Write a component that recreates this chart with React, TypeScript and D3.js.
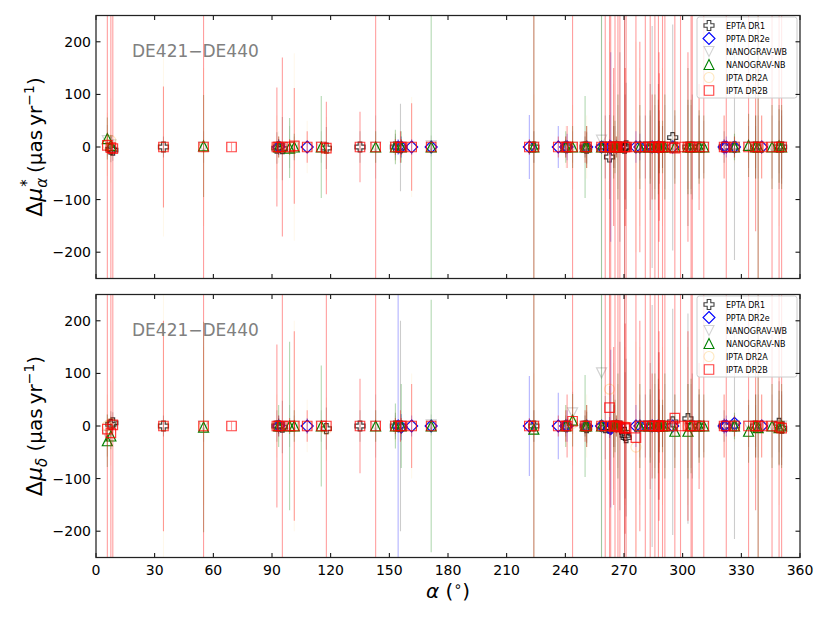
import * as d3 from 'd3'

// rows: [ra (deg), dmu_alpha*, err_alpha, dmu_delta, err_delta]  (μas/yr)
type Row = [number, number, number, number, number]

const EPTA_DR1: Row[] = [
  [7.6, -4, 25, 3, 25], [8.6, -6, 20, 6, 20], [34.5, 0, 20, 0, 20], [92.5, -2, 30, 0, 30],
  [93.4, 0, 15, 0, 15], [95.3, -3, 60, -2, 50], [117.8, -2, 40, -5, 40], [135.0, 0, 30, 0, 30],
  [153.1, 0, 25, 0, 25], [155.7, -1, 83, 0, 200], [223.9, 0, 30, 0, 30], [240.2, 0, 20, 0, 20],
  [250.1, 0, 20, 0, 20], [250.9, -2, 30, -3, 30], [258.5, 0, 10, 0, 10], [260.4, 0, 60, -3, 60],
  [262.6, -19, 80, -4, 80], [264.7, 0, 40, 0, 40], [266.1, 0, 10, 0, 10], [267.9, 0, 180, 0, 160],
  [270.3, -2, 400, -12, 400], [270.6, 0, 100, -18, 120], [271.1, 2, 120, -22, 150], [280.9, 0, 60, 0, 60],
  [283.4, 0, 120, 0, 120], [284.4, 0, 230, 0, 230], [287.4, 0, 5, 0, 5], [287.6, 0, 120, 0, 140],
  [287.9, 0, 50, 0, 50], [288.0, 0, 70, 0, 70], [289.7, 0, 40, 0, 40], [294.9, 18, 215, 8, 215],
  [302.7, 0, 150, 14, 200], [304.9, 0, 100, 0, 100], [308.4, 0, 60, 0, 60], [321.2, 0, 30, 0, 30],
  [326.5, 0, 215, 0, 215], [337.3, 0, 60, 0, 60], [349.3, 0, 80, 5, 80], [350.6, 0, 70, -4, 70],
]

const PPTA_DR2E: Row[] = [
  [93.4, 0, 15, 0, 20], [108.0, 0, 10, 0, 15], [154.5, 0, 15, 0, 400], [156.1, 0, 20, -2, 25],
  [161.4, 0, 15, 0, 20], [171.4, 0, 10, 0, 10], [221.6, 0, 61, 0, 95], [236.4, 0, 40, 0, 63],
  [240.2, 0, 10, 0, 10], [240.9, 0, 25, 0, 30], [250.9, 0, 10, 0, 10], [258.5, 0, 3, 0, 3],
  [262.6, 0, 15, -3, 20], [263.2, 0, 180, -5, 150], [266.1, 0, 5, 0, 5], [276.1, 0, 30, 0, 40],
  [278.1, 0, 25, 0, 30], [284.4, 0, 10, 0, 10], [287.4, 0, 3, 0, 3], [294.9, 0, 5, 0, 5],
  [321.2, 0, 15, 0, 15], [322.3, 0, 20, 0, 20], [326.5, 0, 8, 5, 10], [340.4, 0, 10, 0, 10],
]

const NANOGRAV_WB: Row[] = [
  [5.8, 12, 30, -18, 40], [7.6, 4, 20, 0, 20], [55.0, 0, 30, 0, 30], [93.4, 0, 15, 0, 15],
  [99.0, 0, 40, 0, 40], [101.4, 0, 20, 0, 20], [115.2, 0, 30, 0, 30], [143.0, 0, 60, 0, 60],
  [153.1, 0, 20, 0, 20], [156.1, 0, 20, 0, 20], [171.4, 2, 20, 2, 20], [223.9, 0, 30, 0, 30],
  [240.2, 0, 15, 0, 15], [243.7, 0, 30, 25, 40], [250.1, 0, 20, 0, 20], [250.9, 0, 30, 0, 30],
  [258.5, 13, 400, 101, 400], [264.7, 0, 40, 0, 40], [265.4, 0, 40, 0, 40], [266.1, 0, 15, 0, 15],
  [266.9, 0, 80, 0, 80], [278.1, 0, 60, 0, 60], [283.4, 0, 60, 0, 60], [285.8, 0, 80, 0, 80],
  [287.4, 0, 5, 0, 5], [287.6, 0, 80, 0, 80], [288.0, 0, 40, 0, 40], [289.7, 0, 40, 0, 40],
  [290.9, 0, 80, 0, 80], [296.0, 0, 60, 0, 60], [302.7, 0, 80, 0, 80], [304.3, 0, 80, 0, 80],
  [308.4, 0, 60, 0, 60], [310.8, 0, 50, 0, 50], [326.5, 0, 20, 0, 20], [333.7, 0, 40, 0, 40],
  [337.3, 0, 40, 0, 40], [338.6, 0, 60, 0, 60], [345.7, 0, 60, 0, 60], [349.3, 0, 50, 0, 50],
  [350.6, 0, 60, 0, 60],
]

const NANOGRAV_NB: Row[] = [
  [5.8, 16, 40, -28, 50], [7.6, 3, 20, -19, 25], [55.0, 2, 97, -2, 200], [93.4, 0, 20, 0, 40],
  [99.0, -2, 57, 0, 160], [101.4, 0, 25, 0, 30], [115.2, 0, 97, 0, 115], [143.0, 0, 30, 0, 30],
  [153.1, 0, 33, 0, 43], [156.1, 0, 30, 0, 80], [171.4, 0, 400, 0, 240], [223.9, 0, 400, -6, 400],
  [240.2, 0, 30, 0, 40], [243.7, 0, 40, 11, 50], [250.1, 0, 97, 0, 97], [250.9, 0, 40, 0, 40],
  [258.5, 0, 400, 0, 400], [264.7, 0, 60, 0, 60], [265.4, 0, 50, 0, 50], [266.1, 0, 20, 0, 20],
  [266.9, 0, 100, 0, 100], [278.1, 0, 80, 0, 80], [283.4, 0, 70, 0, 70], [285.8, 0, 100, 0, 100],
  [287.4, 0, 5, 0, 5], [287.6, 0, 90, 0, 90], [288.0, 0, 50, 0, 50], [289.7, 0, 50, 0, 50],
  [290.9, 0, 100, 0, 100], [296.0, 0, 70, -10, 70], [302.7, 0, 90, -10, 90], [304.3, 0, 90, 0, 90],
  [308.4, 0, 70, 0, 70], [310.8, 0, 60, 0, 60], [326.5, 0, 25, 0, 25], [333.7, 3, 60, -10, 60],
  [337.3, 0, 60, 0, 60], [338.6, 0, 400, -3, 400], [345.7, 0, 80, 0, 80], [349.3, 2, 70, -3, 70],
  [350.6, 0, 80, 0, 80],
]

const IPTA_DR2A: Row[] = [
  [5.8, 5, 60, 0, 60], [7.6, 12, 80, 5, 80], [34.5, 0, 170, 0, 250], [55.0, 0, 150, 0, 150],
  [92.5, 0, 60, 0, 60], [93.4, 0, 30, 0, 30], [101.4, 0, 178, 0, 200], [108.0, 0, 50, 0, 50],
  [117.8, -3, 60, -6, 60], [153.1, 0, 30, 0, 30], [161.4, 0, 95, 0, 100], [223.9, 0, 100, 0, 100],
  [240.2, 0, 40, 0, 40], [243.7, 0, 80, 5, 80], [250.9, 0, 60, 0, 60], [258.5, 0, 20, 0, 20],
  [262.6, 0, 200, 70, 200], [264.7, 0, 120, 0, 120], [266.1, 0, 30, 0, 30], [270.6, 0, 150, 0, 150],
  [276.1, 0, 200, -40, 200], [278.1, 0, 150, 0, 150], [284.4, 0, 80, 0, 80], [287.4, 0, 10, 0, 10],
  [287.9, 0, 120, 0, 120], [289.7, 0, 150, 0, 150], [294.9, 0, 20, 0, 20], [302.7, 0, 150, 0, 150],
  [308.4, 0, 100, 0, 100], [321.2, 0, 60, 0, 60], [326.5, 0, 30, 0, 30], [337.3, 0, 100, 0, 100],
  [340.4, 0, 60, 0, 60], [349.3, 0, 150, 0, 150],
]

const IPTA_DR2B: Row[] = [
  [5.8, 3, 400, -6, 400], [7.6, -1, 400, -13, 400], [8.6, -3, 400, 2, 400], [34.5, 0, 115, 0, 200],
  [55.0, 0, 400, 0, 400], [69.3, 0, 8, 0, 8], [92.5, 0, 113, 0, 155], [93.4, 0, 20, 0, 20],
  [95.3, 0, 170, 0, 400], [99.0, 0, 15, 0, 15], [101.4, 2, 110, 0, 180], [108.0, 0, 30, 0, 30],
  [115.2, 0, 10, 0, 10], [117.8, -2, 88, 0, 400], [135.0, 0, 67, 0, 90], [143.0, 0, 400, 0, 400],
  [153.1, 0, 15, 0, 15], [155.7, 0, 30, 0, 30], [156.1, 0, 15, 0, 15], [161.4, 0, 83, 0, 80],
  [171.4, 0, 10, 0, 10], [221.6, 0, 15, 0, 15], [223.9, 0, 400, 0, 400], [236.4, 0, 20, 0, 20],
  [240.2, 0, 20, 0, 30], [240.9, 0, 40, 0, 60], [243.7, 0, 400, 9, 400], [250.1, 0, 30, 0, 30],
  [250.9, 0, 40, 0, 40], [258.5, 0, 10, 0, 10], [260.4, 0, 400, 0, 400], [262.6, 0, 400, 35, 400],
  [263.2, 0, 400, 0, 400], [264.7, 0, 150, 0, 150], [265.4, 0, 400, 0, 400], [266.1, 0, 20, 0, 20],
  [266.9, 0, 400, 0, 400], [267.9, 0, 400, -2, 400], [270.3, 0, 400, -3, 400], [270.6, 0, 150, -5, 200],
  [271.1, 0, 400, -3, 400], [276.1, 0, 400, -22, 400], [278.1, 0, 200, 0, 200], [280.9, 0, 400, 0, 400],
  [283.4, 0, 400, 0, 400], [284.4, 0, 100, 0, 100], [285.8, 0, 400, 0, 400], [287.4, 0, 5, 0, 5],
  [287.6, 0, 400, 0, 400], [287.9, 0, 180, 0, 180], [288.0, 0, 140, 0, 140], [289.7, 0, 400, 0, 400],
  [290.9, 0, 400, 0, 400], [294.9, 0, 10, 0, 10], [296.0, -2, 400, 15, 400], [298.9, 0, 400, 0, 400],
  [302.7, 0, 180, 0, 180], [304.3, 0, 400, 0, 400], [304.9, 0, 400, 0, 400], [308.4, 0, 120, 0, 120],
  [310.8, 0, 400, 0, 400], [321.2, 0, 60, 0, 60], [322.3, 0, 400, 0, 400], [326.5, 0, 20, 0, 20],
  [333.7, 0, 400, 0, 400], [337.3, 0, 160, 0, 160], [338.6, 0, 400, 0, 400], [340.4, 0, 60, 0, 60],
  [345.7, 0, 400, 0, 400], [349.3, 0, 400, -2, 400], [350.6, 0, 400, -4, 400],
]

const X_TICKS = [0, 30, 60, 90, 120, 150, 180, 210, 240, 270, 300, 330, 360]
const Y_TICKS = [-200, -100, 0, 100, 200]

interface Series {
  name: string
  rows: Row[]
  shape: 'P' | 'D' | 'v' | '^' | 'o' | 's'
  color: string
  markerOpacity: number
  barOpacity: number
}

const SERIES: Series[] = [
  { name: 'EPTA DR1', rows: EPTA_DR1, shape: 'P', color: '#000000', markerOpacity: 0.75, barOpacity: 0.2 },
  { name: 'PPTA DR2e', rows: PPTA_DR2E, shape: 'D', color: '#0000ff', markerOpacity: 1, barOpacity: 0.3 },
  { name: 'NANOGRAV-WB', rows: NANOGRAV_WB, shape: 'v', color: '#808080', markerOpacity: 0.35, barOpacity: 0.2 },
  { name: 'NANOGRAV-NB', rows: NANOGRAV_NB, shape: '^', color: '#008000', markerOpacity: 1, barOpacity: 0.3 },
  { name: 'IPTA DR2A', rows: IPTA_DR2A, shape: 'o', color: '#ffa500', markerOpacity: 0.25, barOpacity: 0.08 },
  { name: 'IPTA DR2B', rows: IPTA_DR2B, shape: 's', color: '#ff0000', markerOpacity: 0.75, barOpacity: 0.38 },
]

const W = 830
const H = 623
const LEFT = 96
const RIGHT = 800
const PANELS = [
  { top: 15.5, bottom: 278.5, col: 1 },
  { top: 294.5, bottom: 557.5, col: 3 },
]
const FONT = 'DejaVu Sans, sans-serif'

function markerPath(shape: Series['shape']): string {
  switch (shape) {
    case 'P': {
      const s = 5, t = 1.8
      return `M${-t},${-s}L${t},${-s}L${t},${-t}L${s},${-t}L${s},${t}L${t},${t}L${t},${s}L${-t},${s}L${-t},${t}L${-s},${t}L${-s},${-t}L${-t},${-t}Z`
    }
    case 'D': return 'M0,-6L6,0L0,6L-6,0Z'
    case '^': return 'M0,-5L5,5L-5,5Z'
    case 'v': return 'M0,5L5,-5L-5,-5Z'
    case 'o': return 'M5,0A5,5 0 1 1 -5,0A5,5 0 1 1 5,0Z'
    case 's': return 'M-4.75,-4.75L4.75,-4.75L4.75,4.75L-4.75,4.75Z'
  }
}

function Panel({ idx }: { idx: number }) {
  const { top, bottom, col } = PANELS[idx]
  const x = d3.scaleLinear().domain([0, 360]).range([LEFT, RIGHT])
  const y = d3.scaleLinear().domain([-250, 250]).range([bottom, top])
  const clipId = `clip${idx}`
  const legX = 697, legY = top + 1.5

  return (
    <g>
      <defs>
        <clipPath id={clipId}>
          <rect x={LEFT} y={top} width={RIGHT - LEFT} height={bottom - top} />
        </clipPath>
      </defs>
      <g clipPath={`url(#${clipId})`}>
        {SERIES.map(s => (
          <g key={s.name}>
            {s.rows.map((r, i) => (
              <line key={i} x1={x(r[0])} x2={x(r[0])}
                y1={y(r[col] - r[col + 1])} y2={y(r[col] + r[col + 1])}
                stroke={s.color} strokeOpacity={s.barOpacity} strokeWidth={1.1} />
            ))}
            {s.rows.map((r, i) => (
              <path key={'m' + i} d={markerPath(s.shape)}
                transform={`translate(${x(r[0])},${y(r[col])})`}
                fill="none" stroke={s.color} strokeOpacity={s.markerOpacity} strokeWidth={1.2} />
            ))}
          </g>
        ))}
      </g>

      <text x={132} y={top + 41} fontFamily={FONT} fontSize={17} fill="#808080">DE421−DE440</text>

      {/* legend */}
      <rect x={legX} y={legY} width={100} height={81} rx={2.5} fill="#fff" fillOpacity={0.8} stroke="#cccccc" strokeWidth={1} />
      {SERIES.map((s, i) => (
        <g key={s.name} transform={`translate(0,${legY + 8.5 + i * 13})`}>
          <path d={markerPath(s.shape)} transform={`translate(${legX + 12},0)`}
            fill="none" stroke={s.color} strokeOpacity={s.markerOpacity} strokeWidth={1.1} />
          <text x={legX + 29} y={3} fontFamily={FONT} fontSize={8} fill="#000">{s.name}</text>
        </g>
      ))}

      {/* ticks */}
      {X_TICKS.map(t => (
        <g key={'x' + t}>
          <line x1={x(t)} x2={x(t)} y1={bottom} y2={bottom - 4.5} stroke="#000" strokeWidth={1} />
          <line x1={x(t)} x2={x(t)} y1={top} y2={top + 4.5} stroke="#000" strokeWidth={1} />
          {idx === 1 && (
            <text x={x(t)} y={bottom + 17} textAnchor="middle" fontFamily={FONT} fontSize={14} fill="#000">{t}</text>
          )}
        </g>
      ))}
      {Y_TICKS.map(t => (
        <g key={'y' + t}>
          <line x1={LEFT} x2={LEFT + 4.5} y1={y(t)} y2={y(t)} stroke="#000" strokeWidth={1} />
          <line x1={RIGHT} x2={RIGHT - 4.5} y1={y(t)} y2={y(t)} stroke="#000" strokeWidth={1} />
          <text x={LEFT - 5} y={y(t) + 5} textAnchor="end" fontFamily={FONT} fontSize={14} fill="#000">
            {t < 0 ? `−${-t}` : t}
          </text>
        </g>
      ))}
      <rect x={LEFT} y={top} width={RIGHT - LEFT} height={bottom - top} fill="none" stroke="#222" strokeWidth={1.25} />

      {/* y label */}
      <text transform={`translate(42,${(top + bottom) / 2}) rotate(-90)`} textAnchor="middle"
        fontFamily={FONT} fontSize={20} fill="#000">
        <tspan fontSize={22}>Δ</tspan>
        <tspan fontStyle="italic" fontSize={22}>μ</tspan>
        <tspan fontStyle="italic" fontSize={15} dy={5}>{idx === 0 ? 'α' : 'δ'}</tspan>
        {idx === 0 && <tspan fontSize={15} dx={-9} dy={-15}>*</tspan>}
        <tspan dy={idx === 0 ? 10 : -5}>{' (μas\u2009yr'}</tspan>
        <tspan fontSize={14} dy={-8}>−1</tspan>
        <tspan dy={8}>)</tspan>
      </text>
    </g>
  )
}

export default function App() {
  return (
    <svg width={W} height={H} viewBox={`0 0 ${W} ${H}`}
      style={{ position: 'fixed', left: 0, top: 0, background: '#fff' }}>
      <rect width={W} height={H} fill="#fff" />
      <Panel idx={0} />
      <Panel idx={1} />
      <text x={(LEFT + RIGHT) / 2} y={598} textAnchor="middle" fontFamily={FONT} fontSize={20} fill="#000">
        <tspan fontStyle="italic">α</tspan>
        <tspan>{' ('}</tspan>
        <tspan fontSize={14} dy={-7}>∘</tspan>
        <tspan dy={7}>)</tspan>
      </text>
    </svg>
  )
}
